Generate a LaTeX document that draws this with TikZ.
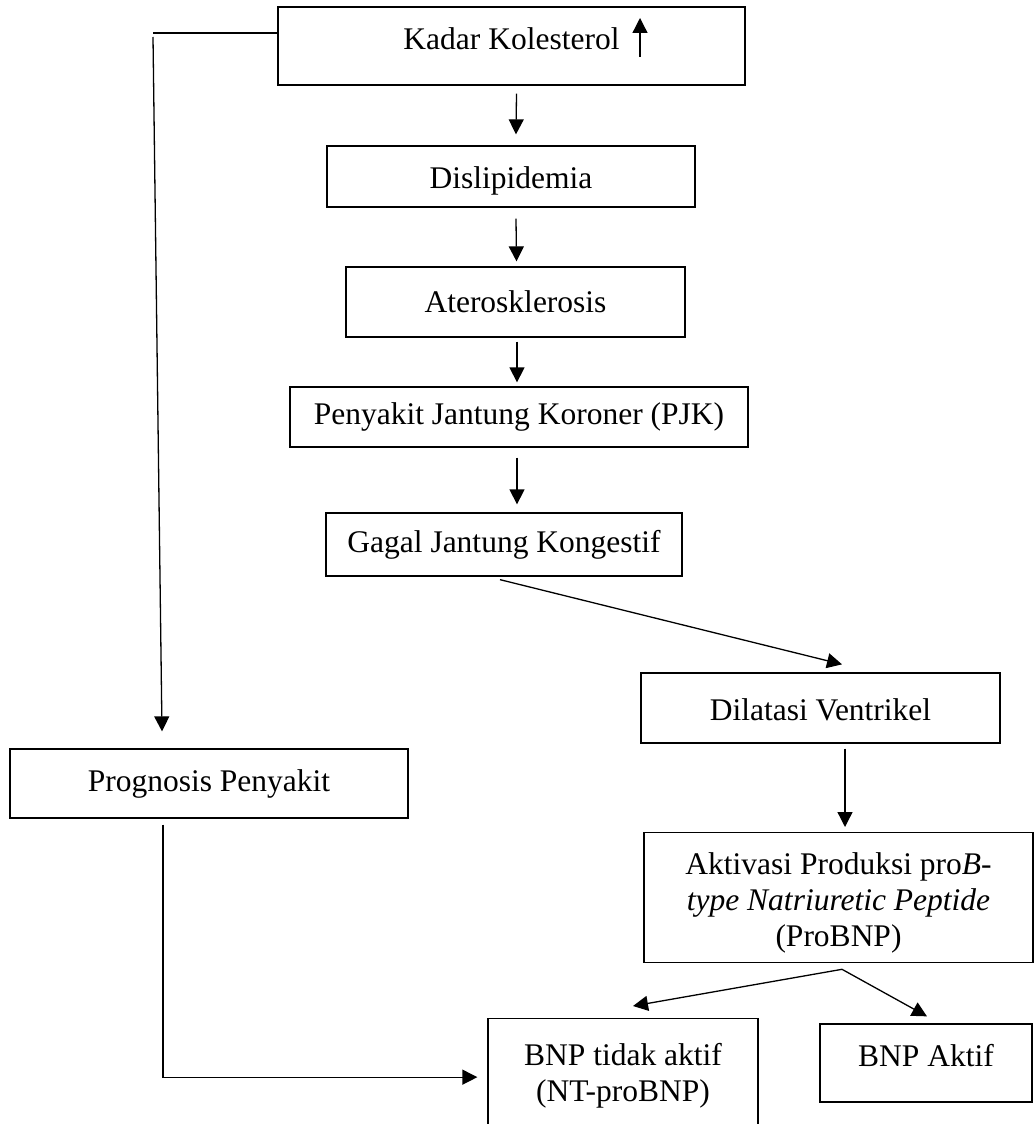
\documentclass[tikz,border=0pt]{standalone}
\usepackage{fontspec}
\setmainfont{Liberation Serif}
\usetikzlibrary{arrows.meta}
\tikzstyle{kotak} = [draw, line width=1.3pt, rectangle, inner sep=0pt, font=\fontsize{31.5pt}{36pt}\selectfont]
\tikzstyle{panah} = [-{Triangle[length=15pt,width=15pt]}, line width=1.3pt]
\tikzstyle{garis} = [line width=1.3pt]

\begin{document}
\begin{tikzpicture}[x=1pt,y=-1pt]
	\useasboundingbox (0,0) rectangle (1035,1124);
	\clip (0,0) rectangle (1035,1124);
	\node[kotak, minimum width=467pt, minimum height=78pt, text depth=14pt] (kadar) at (511.5,46) {Kadar Kolesterol};
	\node[kotak, minimum width=368pt, minimum height=61pt, text height=31pt] (dis) at (511,176.5) {Dislipidemia};
	\node[kotak, minimum width=339pt, minimum height=70pt] (ater) at (515.5,302) {Aterosklerosis};
	\node[kotak, minimum width=458pt, minimum height=60pt] (pjk) at (519,417) {Penyakit Jantung Koroner (PJK)};
	\node[kotak, minimum width=356pt, minimum height=63pt] (gagal) at (504,544.5) {Gagal Jantung Kongestif};
	\node[kotak, minimum width=359pt, minimum height=70pt, text height=26pt] (dilat) at (820.5,708) {Dilatasi Ventrikel};
	\node[kotak, minimum width=398pt, minimum height=69pt] (prog) at (209,783.5) {Prognosis Penyakit};
	\node[kotak, minimum width=389pt, anchor=north, text height=42pt, text depth=88pt] (aktiv) at (838.5,832) {\begin{tabular}[t]{@{}c@{}}Aktivasi Produksi pro\textit{B}-\\\textit{type Natriuretic Peptide}\\(ProBNP)\end{tabular}};
	\node[kotak, minimum width=270pt, anchor=north, text height=47pt, text depth=100pt] (tidak) at (623,1018) {\begin{tabular}[t]{@{}c@{}}BNP tidak aktif\\(NT-proBNP)\end{tabular}};
	\node[kotak, minimum width=212pt, minimum height=78pt, text depth=15pt] (aktif) at (926,1063) {BNP Aktif};
	\coordinate (sudut) at (153,33);

	\draw[panah] ([xshift=128.5pt,yshift=-11pt]kadar.center) -- ([xshift=128.5pt,yshift=28pt]kadar.center);
	\draw[panah] ([xshift=5pt,yshift=-8pt]kadar.south) -- ([xshift=5pt,yshift=11pt]dis.north);
	\draw[panah] ([xshift=5pt,yshift=-11pt]dis.south) -- ([xshift=1pt,yshift=5pt]ater.north);
	\draw[panah] ([xshift=1.5pt,yshift=-4pt]ater.south) -- ([xshift=-2pt,yshift=4pt]pjk.north);
	\draw[panah] ([xshift=-2pt,yshift=-10pt]pjk.south) -- ([xshift=13pt,yshift=8pt]gagal.north);
	\draw[panah] ([xshift=-4pt,yshift=-3pt]gagal.south) -- ([xshift=21.5pt,yshift=8pt]dilat.north);
	\draw[panah] ([xshift=24.5pt,yshift=-5pt]dilat.south) -- ([xshift=6.5pt,yshift=5pt]aktiv.north);
	\draw[panah] ([xshift=3.5pt,yshift=-6pt]aktiv.south) -- ([xshift=10pt,yshift=12pt]tidak.north);
	\draw[panah] ([xshift=3.5pt,yshift=-6pt]aktiv.south) -- ([xshift=1pt,yshift=7pt]aktif.north);
	\draw[garis] ([yshift=13pt]kadar.west) -- (sudut);
	\draw[panah] ([yshift=-4pt]sudut) -- ([xshift=-47pt,yshift=17pt]prog.north);
	\draw[panah] ([xshift=-46pt,yshift=-6pt]prog.south) |- ([xshift=-10pt,yshift=15pt]tidak.west);
\end{tikzpicture}
\end{document}
